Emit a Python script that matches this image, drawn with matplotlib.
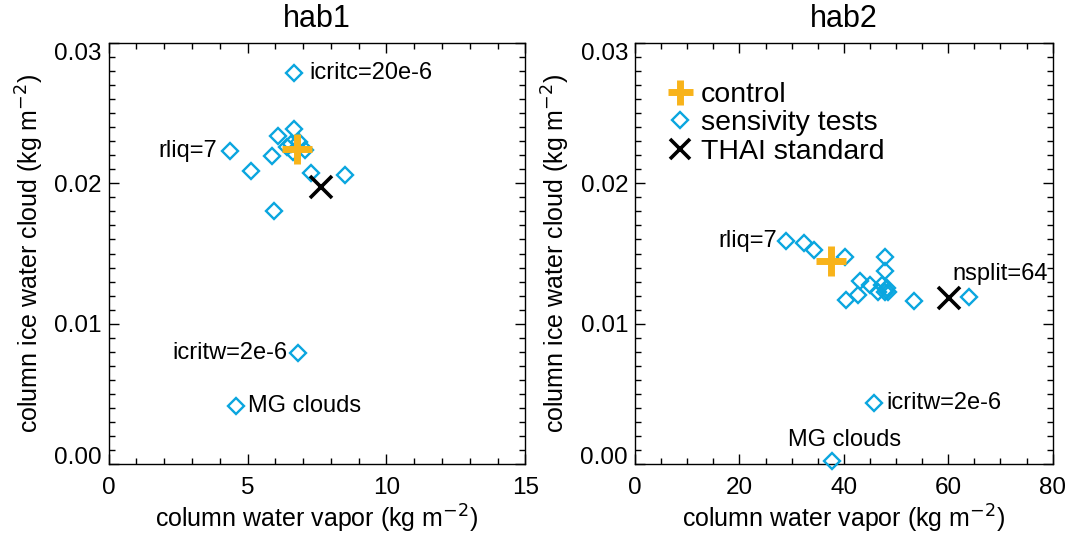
import matplotlib
matplotlib.use("Agg")
import matplotlib.pyplot as plt
from matplotlib.ticker import MultipleLocator, FormatStrFormatter
from matplotlib.lines import Line2D

plt.rcParams['font.family'] = ['Liberation Sans', 'DejaVu Sans']

# ---- data ----
hab1_sens_x = [6.68, 6.11, 6.68, 4.37, 5.87, 5.12, 5.95, 7.28, 8.51, 6.41, 6.65, 7.07, 6.55, 6.85, 6.82, 4.57]
hab1_sens_y = [0.02785, 0.02338, 0.02384, 0.02231, 0.02194, 0.02089, 0.01802, 0.02071, 0.02057,
               0.02260, 0.02224, 0.02237, 0.02280, 0.02290, 0.00792, 0.00415]
hab1_control = (6.77, 0.02244)
hab1_thai = (7.65, 0.01975)

hab2_sens_x = [28.9, 32.4, 34.2, 40.2, 47.9, 47.8, 43.1, 45.0, 47.3, 48.3, 47.9, 46.6, 48.5,
               42.8, 40.4, 53.5, 63.9, 45.7, 37.8]
hab2_sens_y = [0.01591, 0.01573, 0.01525, 0.01477, 0.01477, 0.01378, 0.01307, 0.01276, 0.01276,
               0.01252, 0.01228, 0.01228, 0.01228, 0.01205, 0.01169, 0.01164, 0.01193, 0.00434, 0.00023]
hab2_control = (37.5, 0.01449)
hab2_thai = (60.2, 0.01181)

# labels: (text, x, y)
hab1_labels = [("icritc=20e-6", 6.68, 0.02785), ("rliq=7", 4.37, 0.02231),
               ("icritw=2e-6", 6.82, 0.00792), ("MG clouds", 4.57, 0.00415)]
hab2_labels = [("rliq=7", 28.9, 0.01591), ("nsplit=64", 63.9, 0.01193),
               ("icritw=2e-6", 45.7, 0.00434), ("MG clouds", 37.8, 0.00023)]

titles = ["hab1", "hab2"]
xlims = [(0, 15), (0, 80)]
xmajor = [5, 20]
xminor = [1, 5]

CYAN = "#0aa6df"
ORANGE = "#f8b31a"

fig = plt.figure(figsize=(10.71, 5.36), dpi=100)
ax1 = fig.add_axes([0.1015, 0.1338, 0.389, 0.7865])
ax2 = fig.add_axes([0.5929, 0.1338, 0.390, 0.7865])

def draw(ax, sx, sy, ctrl, thai, i):
    ax.plot(sx, sy, linestyle='none', marker='D', markersize=8, markerfacecolor='none',
            markeredgecolor=CYAN, markeredgewidth=1.7, zorder=3, clip_on=False)
    ax.plot([ctrl[0]], [ctrl[1]], linestyle='none', marker='+', markersize=21,
            markeredgewidth=5, color=ORANGE, zorder=4, clip_on=False)
    ax.plot([thai[0]], [thai[1]], linestyle='none', marker='x', markersize=16,
            markeredgewidth=2.6, color='black', zorder=4, clip_on=False)
    ax.set_xlim(*xlims[i])
    ax.set_ylim(0, 0.03)
    ax.xaxis.set_major_locator(MultipleLocator(xmajor[i]))
    ax.xaxis.set_minor_locator(MultipleLocator(xminor[i]))
    ax.yaxis.set_major_locator(MultipleLocator(0.01))
    ax.yaxis.set_minor_locator(MultipleLocator(0.001))
    ax.yaxis.set_major_formatter(FormatStrFormatter('%.2f'))
    ax.tick_params(which='both', direction='in', top=True, right=True, labelsize=17.5, width=1)
    ax.tick_params(which='major', length=7)
    ax.tick_params(which='minor', length=4)
    ax.tick_params(axis='x', which='major', pad=9)
    ax.tick_params(axis='y', which='major', pad=5)
    for s in ax.spines.values():
        s.set_linewidth(1)
    ax.set_title(titles[i], fontsize=22, pad=11)
    ax.set_xlabel("column water vapor (kg m$^{-2}$)", fontsize=18, labelpad=3)
    ax.set_ylabel("column ice water cloud (kg m$^{-2}$)", fontsize=18, labelpad=6)

draw(ax1, hab1_sens_x, hab1_sens_y, hab1_control, hab1_thai, 0)
draw(ax2, hab2_sens_x, hab2_sens_y, hab2_control, hab2_thai, 1)

fs = 17
offs1 = [((11, 0), 'left', 'center'), ((-9, 0), 'right', 'center'),
         ((-8, 0), 'right', 'center'), ((9, 0), 'left', 'center')]
for (t, x, y), (o, ha, va) in zip(hab1_labels, offs1):
    ax1.annotate(t, (x, y), xytext=o, textcoords='offset points', ha=ha, va=va, fontsize=fs)
offs2 = [((-6.5, 0), 'right', 'center'), ((-11.5, 16), 'left', 'center'),
         ((9, 0), 'left', 'center'), ((9, 15), 'center', 'center')]
for (t, x, y), (o, ha, va) in zip(hab2_labels, offs2):
    ax2.annotate(t, (x, y), xytext=o, textcoords='offset points', ha=ha, va=va, fontsize=fs)

handles = [Line2D([], [], linestyle='none', marker='+', markersize=18, markeredgewidth=5, color=ORANGE),
           Line2D([], [], linestyle='none', marker='D', markersize=8, markerfacecolor='none',
                  markeredgecolor=CYAN, markeredgewidth=1.7),
           Line2D([], [], linestyle='none', marker='x', markersize=14, markeredgewidth=2.6, color='black')]
ax2.legend(handles, ["control", "sensivity tests", "THAI standard"], loc='upper left',
           bbox_to_anchor=(0.074, 0.908), frameon=False, fontsize=20.5, handlelength=1.0,
           handletextpad=0.22, labelspacing=0.1, borderaxespad=0, borderpad=0)

fig.canvas.draw()
for ax in (ax1, ax2):
    for lab in ax.get_yticklabels():
        if lab.get_text() == '0.00':
            lab.set_verticalalignment('baseline')
        elif lab.get_text() == '0.03':
            lab.set_verticalalignment('top')

fig.savefig("out.png", dpi=100)
